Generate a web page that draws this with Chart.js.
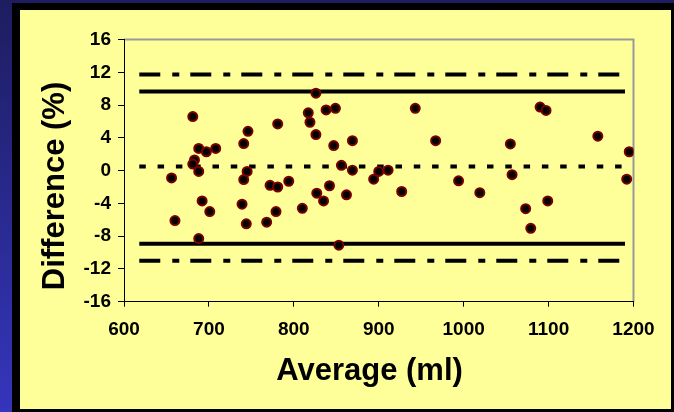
<!DOCTYPE html>
<html>
<head>
<meta charset="utf-8">
<script src="https://cdn.jsdelivr.net/npm/chart.js@4.4.1/dist/chart.umd.min.js"></script>
<style>
  html, body { margin: 0; padding: 0; }
  body {
    width: 674px; height: 412px; overflow: hidden; position: relative;
    background: linear-gradient(to bottom, #1d1d60, #3535bd);
  }
  #frame { position: absolute; left: 12px; top: 3px; width: 662px; height: 409px; background: #000; }
  #panel { position: absolute; left: 20px; top: 10px; width: 651px; height: 399px; background: #ffff99; }
  #bland { position: absolute; left: 0; top: 0; }
</style>
</head>
<body>
<div id="frame"></div>
<div id="panel"></div>
<canvas id="bland" width="674" height="412"></canvas>
<script>
// measurements: average of the two methods (ml) and difference (%)
const avgMl = [681, 781, 746, 741, 688, 697, 708, 683, 681, 688,
               656, 745, 741, 772, 781, 794, 692, 701, 739, 779,
               810, 660, 744, 768, 688, 826, 817, 838, 849, 943,
               819, 826, 847, 869, 967, 856, 869, 900, 911, 894,
               994, 842, 827, 862, 835, 927, 853, 1090, 1097, 1158,
               1055, 1195, 1057, 1192, 1019, 1099, 1073, 1079];
const diffPct = [6.6, 5.7, 4.8, 3.3, 2.7, 2.3, 2.7, 1.3, 0.8, -0.1,
                 -0.9, -0.1, -1.1, -1.8, -2.0, -1.3, -3.7, -5.0, -4.1, -5.0,
                 -4.6, -6.1, -6.5, -6.3, -8.3, 9.45, 7.05, 7.4, 7.6, 7.6,
                 5.9, 4.4, 3.05, 3.65, 3.65, 0.65, 0.05, -0.1, 0.05, -1.05,
                 -1.25, -1.85, -2.75, -2.95, -3.7, -2.55, -9.1, 7.75, 7.35, 4.2,
                 3.25, 2.3, -0.5, -1.05, -2.7, -3.7, -4.65, -7.05];

// reference lines (x extent, then levels)
const lineX = [618, 1190];
const meanDiff = 0.5;
const upperLoA = 9.65;
const lowerLoA = -8.93;
const upperCI = 11.72;
const lowerCI = -11.0;

const xTicks = [600, 700, 800, 900, 1000, 1100, 1200];
const yTicks = [16, 12, 8, 4, 0, -4, -8, -12, -16];

const FONT = "'Liberation Sans', Arial, sans-serif";

function hLine(level, dash) {
  return {
    type: 'line',
    data: lineX.map(x => ({ x: x, y: level })),
    borderColor: '#000',
    borderWidth: 4,
    borderDash: dash,
    pointRadius: 0,
    fill: false
  };
}

const frameAndTitles = {
  id: 'frameAndTitles',
  beforeDraw(chart) {
    const { ctx, chartArea: a } = chart;
    ctx.save();
    ctx.strokeStyle = '#999999';
    ctx.lineWidth = 2;
    ctx.beginPath();
    ctx.moveTo(a.left, a.top);
    ctx.lineTo(a.right, a.top);
    ctx.lineTo(a.right, a.bottom);
    ctx.stroke();
    ctx.restore();
  },
  afterDraw(chart) {
    const ctx = chart.ctx;
    ctx.save();
    ctx.fillStyle = '#000';
    ctx.font = 'bold 31px ' + FONT;
    ctx.textAlign = 'center';
    ctx.textBaseline = 'alphabetic';
    ctx.fillText('Average (ml)', 369.5, 380);
    ctx.translate(63.5, 186);
    ctx.rotate(-Math.PI / 2);
    ctx.fillText('Difference (%)', 0, 0);
    ctx.restore();
  }
};

new Chart(document.getElementById('bland'), {
  type: 'scatter',
  data: {
    datasets: [
      {
        data: avgMl.map((x, i) => ({ x: x, y: diffPct[i] })),
        backgroundColor: '#000',
        borderColor: '#7a0000',
        borderWidth: 2,
        pointRadius: 4.5
      },
      hLine(meanDiff, [6.5, 11.8]),
      hLine(upperLoA, []),
      hLine(lowerLoA, []),
      hLine(upperCI, [21, 12, 7, 11]),
      hLine(lowerCI, [21, 12, 7, 11])
    ]
  },
  options: {
    responsive: false,
    animation: false,
    devicePixelRatio: 1,
    layout: { padding: { left: 0, top: 39.5, right: 40.5, bottom: 0 } },
    plugins: { legend: { display: false }, tooltip: { enabled: false } },
    scales: {
      x: {
        type: 'linear',
        min: 600,
        max: 1200,
        afterBuildTicks: s => { s.ticks = xTicks.map(v => ({ value: v })); },
        afterFit: s => { s.height = 110.3; },
        ticks: {
          color: '#000', padding: 12,
          font: { family: FONT, size: 19, weight: 'bold' },
          callback: v => String(v)
        },
        grid: { drawOnChartArea: false, drawTicks: true, tickLength: 5, color: '#000' },
        border: { color: '#000', width: 1 }
      },
      y: {
        min: -16,
        max: 16,
        afterBuildTicks: s => { s.ticks = yTicks.map(v => ({ value: v })); },
        afterFit: s => { s.width = 124; },
        ticks: {
          color: '#000', padding: 7,
          font: { family: FONT, size: 19, weight: 'bold' },
          callback: v => String(v)
        },
        grid: { drawOnChartArea: false, drawTicks: true, tickLength: 6, color: '#000' },
        border: { color: '#000', width: 1 }
      }
    }
  },
  plugins: [frameAndTitles]
});
</script>
</body>
</html>
